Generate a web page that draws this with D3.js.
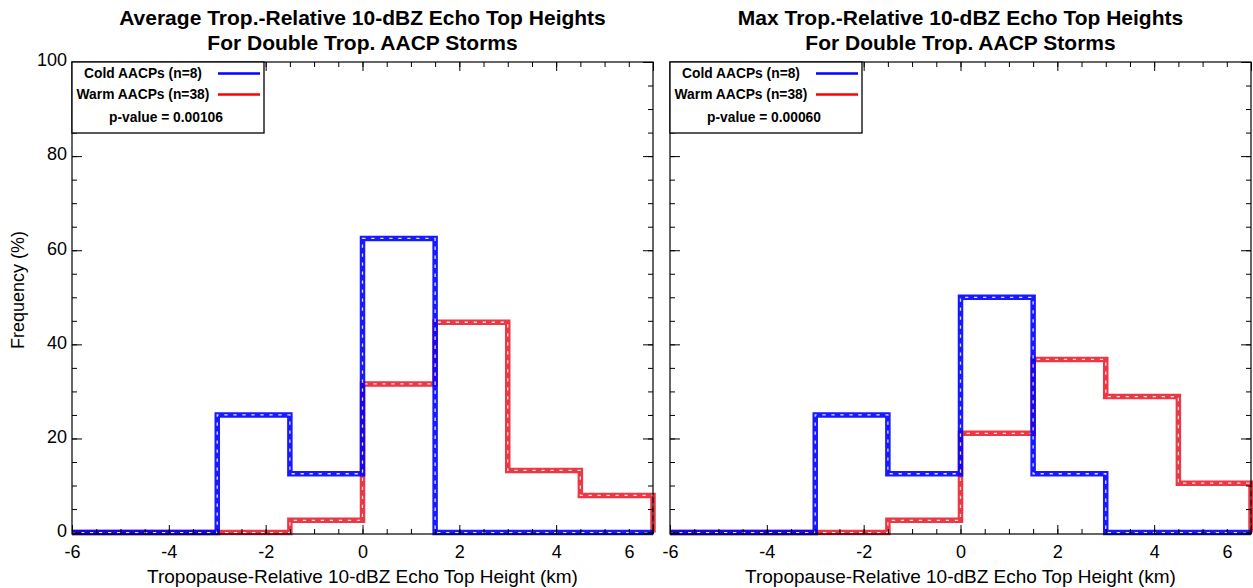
<!DOCTYPE html>
<html>
<head>
<meta charset="utf-8">
<script src="https://cdn.jsdelivr.net/npm/d3@7"></script>
<style>
  body { margin: 0; background: #fff; }
  svg text { font-family: "Liberation Sans", Arial, Helvetica, sans-serif; fill: #000; }
  .title { font-weight: bold; font-size: 21px; }
  .tick-label { font-size: 18px; }
  .axis-label { font-size: 19px; }
  .y-label { font-size: 18px; }
  .legend-text { font-weight: bold; font-size: 13.8px; }
</style>
</head>
<body>
<svg id="chart" width="1253" height="588"></svg>
<script>
// bin edges (km) shared by all histograms
var binEdges = [-6, -4.5, -3, -1.5, 0, 1.5, 3, 4.5, 6];

// frequencies (%) per bin
var avgCold = [0, 0, 25, 12.5, 62.5, 0, 0, 0];
var avgWarm = [0, 0, 0, 2.6, 31.6, 44.7, 13.2, 7.9];
var maxCold = [0, 0, 25, 12.5, 50, 12.5, 0, 0];
var maxWarm = [0, 0, 0, 2.6, 21.1, 36.8, 28.9, 10.5];

var xTicks = [-6, -4, -2, 0, 2, 4, 6];
var yTicks = [0, 20, 40, 60, 80, 100];
var titles = [
  ["Average Trop.-Relative 10-dBZ Echo Top Heights", "For Double Trop. AACP Storms"],
  ["Max Trop.-Relative 10-dBZ Echo Top Heights", "For Double Trop. AACP Storms"]
];
var legendLabels = ["Cold AACPs (n=8)", "Warm AACPs (n=38)"];
var pValues = ["p-value = 0.00106", "p-value = 0.00060"];
var xTitle = "Tropopause-Relative 10-dBZ Echo Top Height (km)";
var yTitle = "Frequency (%)";

var coldColor = "rgba(0,0,255,0.9)",
    warmColor = "rgba(235,20,35,0.85)";

var svg = d3.select("#chart");
var top0 = 62, bottom0 = 534, plotW = 581;
var panelLeft = [72, 670];

function stepPoints(vals){
  var pts = [[binEdges[0], 0]];
  vals.forEach(function(v, i){
    pts.push([binEdges[i], v]);
    pts.push([binEdges[i + 1], v]);
  });
  pts.push([binEdges[binEdges.length - 1], 0]);
  return pts;
}

function plainNum(d){ return String(d); } // hyphen minus, like the original

function drawPanel(p){
  var left = panelLeft[p];
  var cold = p === 0 ? avgCold : maxCold;
  var warm = p === 0 ? avgWarm : maxWarm;

  var x = d3.scaleLinear().domain([-6, 6]).range([0, plotW]);
  var y = d3.scaleLinear().domain([-0.3, 100]).range([bottom0 - top0, 0]);
  var h = bottom0 - top0;

  var g = svg.append("g").attr("transform", "translate(" + left + "," + top0 + ")");

  //Histograms: warm first, cold on top
  var line = d3.line()
    .x(function(d){ return x(d[0]); })
    .y(function(d){ return y(d[1]); });

  [[warm, warmColor], [cold, coldColor]].forEach(function(s){
    var pts = stepPoints(s[0]);
    g.append("path")
      .attr("d", line(pts))
      .style("fill", "none")
      .style("stroke", s[1])
      .style("stroke-width", 5.5)
      .style("stroke-linejoin", "miter");
    g.append("path")
      .attr("d", line(pts))
      .style("fill", "none")
      .style("stroke", "rgba(255,255,255,0.85)")
      .style("stroke-width", 1.3)
      .style("stroke-dasharray", "3.3,5.7");
  });

  //Axes (ticks inward on all four sides)
  var minorX = d3.range(-6, 6.01, 0.5), minorY = d3.range(0, 100.1, 5);
  function addAxis(axis, transform){
    var a = g.append("g").attr("transform", transform).call(axis);
    a.select(".domain").remove();
    a.selectAll("line").style("stroke", "#000");
    return a;
  }
  addAxis(d3.axisBottom(x).tickValues(minorX).tickSize(-5).tickFormat(""), "translate(0," + h + ")");
  addAxis(d3.axisTop(x).tickValues(minorX).tickSize(-5).tickFormat(""), "translate(0,0)");
  addAxis(d3.axisLeft(y).tickValues(minorY).tickSize(-5).tickFormat(""), "translate(0,0)");
  addAxis(d3.axisRight(y).tickValues(minorY).tickSize(-5).tickFormat(""), "translate(" + plotW + ",0)");

  var xb = addAxis(d3.axisBottom(x).tickValues(xTicks).tickSize(-9).tickPadding(10).tickFormat(plainNum),
                   "translate(0," + h + ")");
  xb.selectAll("text").attr("class", "tick-label").attr("dy", "0.75em")
    .attr("dx", function(d){ return d === 6 ? -24 : 0; });
  addAxis(d3.axisTop(x).tickValues(xTicks).tickSize(-9).tickFormat(""), "translate(0,0)");
  var yl = addAxis(d3.axisLeft(y).tickValues(yTicks).tickSize(-10).tickPadding(5).tickFormat(plainNum), "translate(0,0)");
  if(p === 0) yl.selectAll("text").attr("class", "tick-label").attr("y", -2);
  else yl.selectAll("text").remove();
  addAxis(d3.axisRight(y).tickValues(yTicks).tickSize(-10).tickFormat(""), "translate(" + plotW + ",0)");

  //Frame
  g.append("rect")
    .attr("x", 0).attr("y", 0).attr("width", plotW).attr("height", h)
    .style("fill", "none").style("stroke", "#000").style("stroke-width", 1.2);

  //Titles
  svg.append("text").attr("class", "title").attr("text-anchor", "middle")
    .attr("x", left + plotW / 2).attr("y", 25).text(titles[p][0]);
  svg.append("text").attr("class", "title").attr("text-anchor", "middle")
    .attr("x", left + plotW / 2).attr("y", 50).text(titles[p][1]);

  svg.append("text").attr("class", "axis-label").attr("text-anchor", "middle")
    .attr("x", left + plotW / 2).attr("y", 583).text(xTitle);

  //Legend
  var lg = g.append("g");
  lg.append("rect").attr("x", 0).attr("y", 0).attr("width", 192).attr("height", 71)
    .style("fill", "#fff").style("stroke", "#000").style("stroke-width", 1.3);
  [coldColor, warmColor].forEach(function(c, i){
    lg.append("text").attr("class", "legend-text").attr("text-anchor", "middle")
      .attr("x", 71).attr("y", 16 + i * 20.5).text(legendLabels[i]);
    lg.append("line").attr("x1", 146).attr("x2", 188)
      .attr("y1", 11.5 + i * 21).attr("y2", 11.5 + i * 21)
      .style("stroke", i === 0 ? "#0000ff" : "#ff0000").style("stroke-width", 2.5);
  });
  lg.append("text").attr("class", "legend-text").attr("text-anchor", "middle")
    .attr("x", 94).attr("y", 60).text(pValues[p]);
}

drawPanel(0);
drawPanel(1);

svg.append("text").attr("class", "y-label").attr("text-anchor", "middle")
  .attr("transform", "translate(24,290) rotate(-90)")
  .text(yTitle);
</script>
</body>
</html>
